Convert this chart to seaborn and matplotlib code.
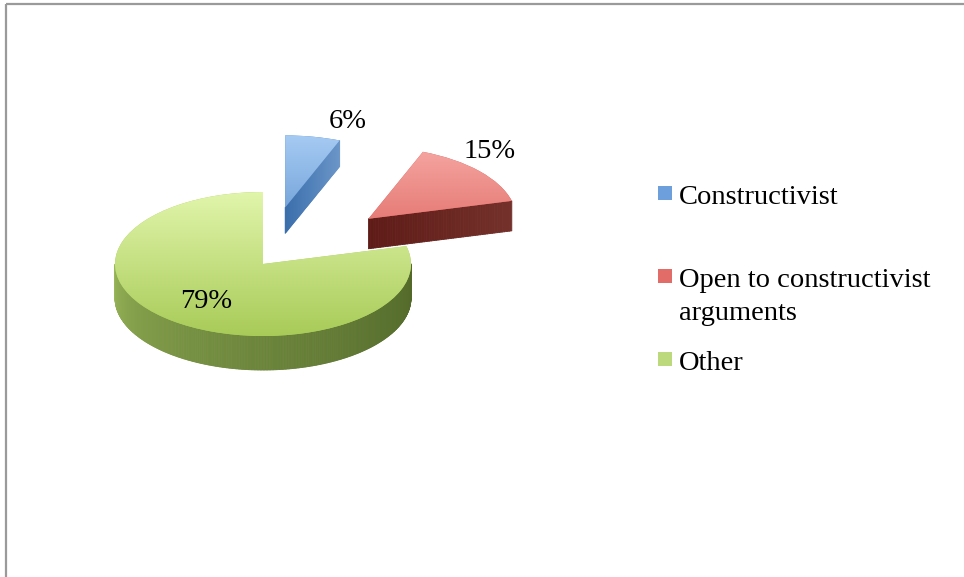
import numpy as np
import matplotlib
matplotlib.use("Agg")
import matplotlib.pyplot as plt
import seaborn as sns
from matplotlib.transforms import Affine2D
from matplotlib.collections import PolyCollection
from matplotlib.colors import to_rgb
from matplotlib.patches import Rectangle

# ---- data ----
categories = ["Constructivist", "Open to constructivist\narguments", "Other"]
shares = [6, 15, 79]
pct_labels = [f"{v}%" for v in shares]

# ---- style ----
sns.set_theme(style="white")
plt.rcParams['font.family'] = ['Liberation Serif', 'DejaVu Serif']

top_colors = [("#a6cbf3", "#4a82c4"), ("#f6a6a2", "#d6514b"), ("#e1f5ab", "#a8cb58")]
arc_colors = [("#5f8fc8", "#3a6aa3"), ("#7a2e26", "#5e1c18"), ("#a3c160", "#52692a")]
rad_colors = [("#3a6eab", "#6a95c8"), ("#5e1b17", "#74302a"), ("#000000", "#000000")]
legend_colors = ["#6d9fdc", "#e26d68", "#bcd97c"]
explode = [0.8, 0.95, 0.0]
thick = [26, 30, 34]

W, H = 964, 577
fig = plt.figure(figsize=(W / 100, H / 100), dpi=100)
ax = fig.add_axes([0, 0, 1, 1])

CX, CY = 263, H - 264
RX, RY = 148, 72

wedges, _ = ax.pie(shares, startangle=90, counterclock=False, radius=1,
                   center=(0, 0), explode=explode,
                   wedgeprops=dict(edgecolor="none", linewidth=0))
ax.set_aspect("auto")
ax.set_xlim(0, W)
ax.set_ylim(0, H)
ax.axis("off")

squash = Affine2D().scale(RX, RY).translate(CX, CY)
tr = squash + ax.transData


def to_px(u, v):
    return (CX + RX * u, CY + RY * v)


def blend(c1, c2, f):
    f = float(np.clip(f, 0, 1))
    return tuple(np.array(to_rgb(c1)) * (1 - f) + np.array(to_rgb(c2)) * f)


zbase = [1, 4, 7]
for i, w in enumerate(wedges):
    cu, cv = w.center
    t1, t2 = w.theta1, w.theta2
    T = thick[i]
    z = zbase[i]
    # outer curved side
    ts = np.linspace(t1, t2, 500)
    polys, cols = [], []
    for a, b in zip(ts[:-1], ts[1:]):
        m = np.deg2rad((a + b) / 2)
        if np.sin(m) >= 0:
            continue
        pa = to_px(cu + np.cos(np.deg2rad(a)), cv + np.sin(np.deg2rad(a)))
        pb = to_px(cu + np.cos(np.deg2rad(b)), cv + np.sin(np.deg2rad(b)))
        polys.append([pa, pb, (pb[0], pb[1] - T), (pa[0], pa[1] - T)])
        f = ((np.rad2deg(m) % 360) - 180) / 180
        cols.append(blend(arc_colors[i][0], arc_colors[i][1], f ** 0.55))
    if polys:
        ax.add_collection(PolyCollection(polys, facecolors=cols, edgecolors=cols,
                                         linewidths=0.6, zorder=z))
    # radial cut face at theta1 (visible when facing the viewer)
    if np.cos(np.deg2rad(t1)) > 1e-6:
        c = np.array(to_px(cu, cv))
        p = np.array(to_px(cu + np.cos(np.deg2rad(t1)), cv + np.sin(np.deg2rad(t1))))
        ss = np.linspace(0, 1, 60)
        polys, cols = [], []
        for a, b in zip(ss[:-1], ss[1:]):
            qa = c + a * (p - c)
            qb = c + b * (p - c)
            polys.append([tuple(qa), tuple(qb), (qb[0], qb[1] - T), (qa[0], qa[1] - T)])
            cols.append(blend(rad_colors[i][0], rad_colors[i][1], (a + b) / 2))
        ax.add_collection(PolyCollection(polys, facecolors=cols, edgecolors=cols,
                                         linewidths=0.6, zorder=z + 0.5))
    # top face with vertical gradient
    w.set_transform(tr)
    w.set_facecolor(top_colors[i][1])
    w.set_zorder(z + 1)
    x0, y0 = to_px(cu - 1, cv - 1)
    x1, y1 = to_px(cu + 1, cv + 1)
    n = 256
    grad = np.array([blend(top_colors[i][0], top_colors[i][1], k / (n - 1)) for k in range(n)])
    img = np.repeat(grad[:, None, :], 2, axis=1)
    im = ax.imshow(img, extent=[x0, x1, y0, y1], origin="upper", aspect="auto",
                   interpolation="bilinear", zorder=z + 1.5)
    im.set_clip_path(w)

ax.set_aspect("auto")
ax.set_xlim(0, W)
ax.set_ylim(0, H)

# data labels (baseline positions in pixels)
label_pos = [(348, 128), (490, 158), (206, 308)]
for txt, (lx, ly) in zip(pct_labels, label_pos):
    ax.text(lx, H - ly, txt, ha="center", va="baseline", fontsize=20.5,
            color="black", zorder=20)

# legend (marker aligned with first text line, entries evenly spaced)
leg_x, leg_y0, leg_dy, line_h = 658, 193, 83, 33
for k, (name, col) in enumerate(zip(categories, legend_colors)):
    yc = leg_y0 + k * leg_dy
    ax.add_patch(Rectangle((leg_x, H - yc - 7), 14, 14, facecolor=col,
                           edgecolor="none", zorder=20))
    for j, line in enumerate(name.split("\n")):
        ax.text(leg_x + 21, H - (yc + 11 + j * line_h), line, ha="left",
                va="baseline", fontsize=20.5, color="black", zorder=20)

# chart-area frame (top and left edges)
ax.plot([5.5, 5.5], [0, H - 3.5], color="#9a9a9a", lw=1.6, zorder=30,
        solid_capstyle="butt")
ax.plot([5.5, W], [H - 3.5, H - 3.5], color="#9a9a9a", lw=1.6, zorder=30,
        solid_capstyle="butt")

fig.savefig("out.png", dpi=100)
